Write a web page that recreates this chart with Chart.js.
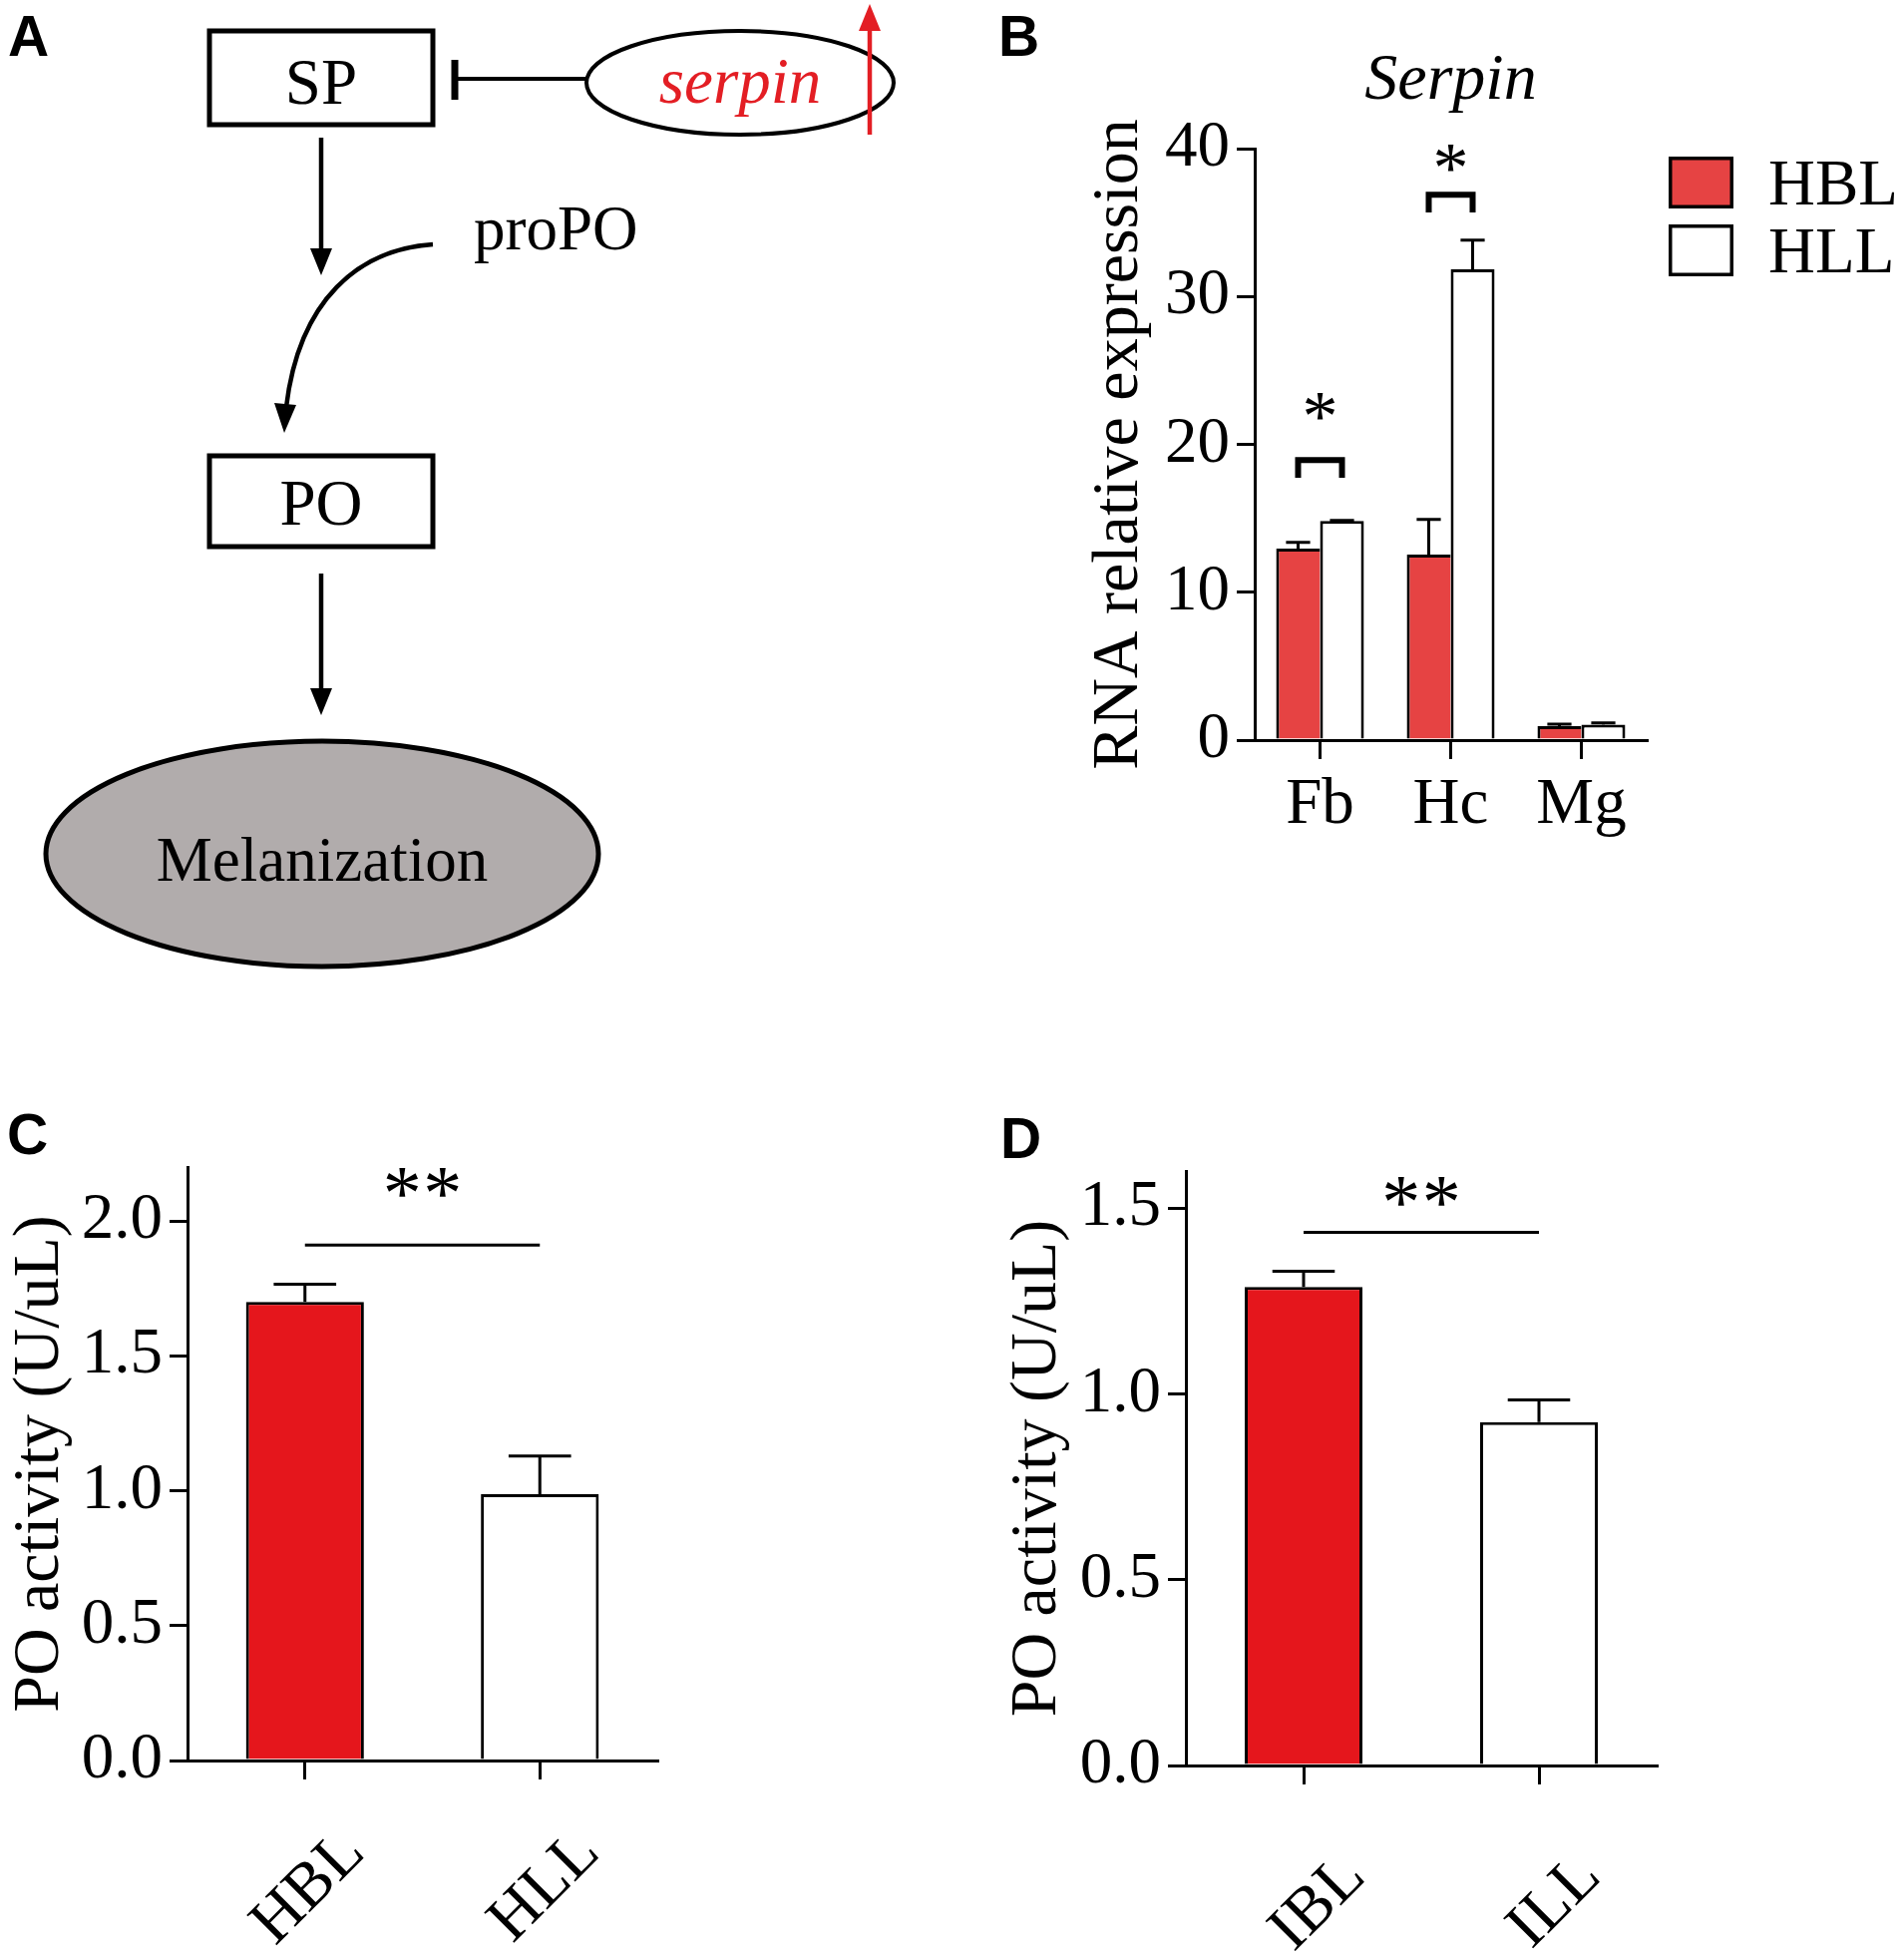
<!DOCTYPE html>
<html>
<head>
<meta charset="utf-8">
<title>Serpin expression and PO activity</title>
<script src="https://cdn.jsdelivr.net/npm/chart.js@4.4.1/dist/chart.umd.min.js"></script>
<style>
  html, body { margin: 0; padding: 0; background: #fff; }
  body { position: relative; width: 1909px; height: 1962px; overflow: hidden; }
  canvas, svg { position: absolute; }
</style>
</head>
<body>
<canvas id="chartB" width="909" height="870" style="left:1000px;top:0px"></canvas>
<canvas id="chartC" width="760" height="862" style="left:0px;top:1100px"></canvas>
<canvas id="chartD" width="800" height="862" style="left:950px;top:1100px"></canvas>

<svg width="1909" height="1962" style="left:0;top:0" font-family="'Liberation Serif', 'Times New Roman', serif">
  <!-- panel letters -->
  <g font-family="'Liberation Sans', Arial, sans-serif" font-weight="bold" font-size="57">
    <text x="8" y="56">A</text>
    <text x="1001" y="56">B</text>
    <text x="7" y="1157">C</text>
    <text x="1003" y="1161">D</text>
  </g>

  <!-- panel A: pathway sketch -->
  <rect x="210" y="31" width="224" height="94" fill="none" stroke="#000" stroke-width="5"/>
  <text x="322" y="104" font-size="65" text-anchor="middle">SP</text>

  <line x1="453" y1="79" x2="588" y2="79" stroke="#000" stroke-width="4"/>
  <line x1="456" y1="60" x2="456" y2="100" stroke="#000" stroke-width="7"/>
  <ellipse cx="742" cy="83" rx="154" ry="52" fill="none" stroke="#000" stroke-width="4"/>
  <text x="742" y="103" font-size="65" font-style="italic" fill="#e31e24" text-anchor="middle">serpin</text>
  <line x1="872" y1="135" x2="872" y2="28" stroke="#e31e24" stroke-width="4.5"/>
  <polygon points="872,4 861,31 883,31" fill="#e31e24"/>

  <line x1="322" y1="138" x2="322" y2="252" stroke="#000" stroke-width="4.5"/>
  <polygon points="322,276 311,249 333,249" fill="#000"/>

  <text x="475" y="250" font-size="63">proPO</text>
  <path d="M434,245 C360,250 300,300 287,408" fill="none" stroke="#000" stroke-width="4.5"/>
  <polygon points="285,434 297,406 275,404" fill="#000"/>

  <rect x="210" y="457" width="224" height="91" fill="none" stroke="#000" stroke-width="5"/>
  <text x="322" y="526" font-size="65" text-anchor="middle">PO</text>

  <line x1="322" y1="575" x2="322" y2="693" stroke="#000" stroke-width="4.5"/>
  <polygon points="322,717 311,690 333,690" fill="#000"/>

  <ellipse cx="323" cy="856" rx="277" ry="113" fill="#b1acac" stroke="#000" stroke-width="5"/>
  <text x="323" y="883" font-size="63" text-anchor="middle">Melanization</text>
</svg>

<script>
const SERIF = "'Liberation Serif', 'Times New Roman', serif";

// B: Serpin relative expression per tissue
const tissues = ['Fb', 'Hc', 'Mg'];
const hblExpr = [12.95, 12.55, 0.94];
const hblExprSem = [0.42, 2.38, 0.14];
const hllExpr = [14.82, 31.85, 1.05];
const hllExprSem = [0.05, 1.98, 0.11];
const exprTicks = [0, 10, 20, 30, 40];
const exprSigIndex = [0, 1];
const exprSigBracket = [18.95, 36.9];
const exprSigStar = [22.3, 39.1];
const exprSigText = ['*', '*'];

// C: PO activity, HBL vs HLL
const groupsC = ['HBL', 'HLL'];
const poActC = [1.70, 0.987];
const poSemC = [0.066, 0.142];
const poTicksC = [0, 0.5, 1.0, 1.5, 2.0];
const sigC = { line: 1.911, star: 2.126, text: '**' };

// D: PO activity, IBL vs ILL
const groupsD = ['IBL', 'ILL'];
const poActD = [1.288, 0.924];
const poSemD = [0.042, 0.06];
const poTicksD = [0, 0.5, 1.0, 1.5];
const sigD = { line: 1.435, star: 1.534, text: '**' };

Chart.defaults.font.family = SERIF;
Chart.defaults.color = '#000';

/* asterisks, one glyph at a time so the gap can be set */
function drawStars(ctx, text, cx, cy, size) {
    ctx.font = size + 'px ' + SERIF;
    ctx.textAlign = 'center';
    ctx.textBaseline = 'alphabetic';
    var gap = size * 0.52;
    for (var k = 0; k < text.length; k++) {
        ctx.fillText(text[k], cx + (k - (text.length - 1) / 2) * gap, cy + size * 0.41);
    }
}

const errorBars = {
    id: 'errorBars',
    afterDatasetsDraw(chart, args, opts) {
        var ctx = chart.ctx, y = chart.scales.y;
        ctx.save();
        ctx.strokeStyle = '#000';
        ctx.lineWidth = opts.width;
        chart.data.datasets.forEach((ds, di) => {
            chart.getDatasetMeta(di).data.forEach((bar, i) => {
                var yBar = y.getPixelForValue(ds.data[i]);
                var yTop = y.getPixelForValue(ds.data[i] + ds.sem[i]);
                var half = bar.width * opts.cap / 2;
                ctx.beginPath();
                ctx.moveTo(bar.x, yBar);
                ctx.lineTo(bar.x, yTop);
                ctx.moveTo(bar.x - half, yTop);
                ctx.lineTo(bar.x + half, yTop);
                ctx.stroke();
            });
        });
        ctx.restore();
    }
};

/* bracket + star over the two bars of one tissue (panel B) */
const sigBrackets = {
    id: 'sigBrackets',
    afterDatasetsDraw(chart, args, opts) {
        var ctx = chart.ctx, y = chart.scales.y;
        var m0 = chart.getDatasetMeta(0).data, m1 = chart.getDatasetMeta(1).data;
        ctx.save();
        ctx.strokeStyle = '#000';
        ctx.fillStyle = '#000';
        ctx.lineWidth = opts.width;
        exprSigIndex.forEach((ci, k) => {
            var x0 = m0[ci].x, x1 = m1[ci].x;
            var yt = y.getPixelForValue(exprSigBracket[k]);
            var yb = y.getPixelForValue(exprSigBracket[k] - opts.leg);
            ctx.beginPath();
            ctx.moveTo(x0, yb);
            ctx.lineTo(x0, yt);
            ctx.lineTo(x1, yt);
            ctx.lineTo(x1, yb);
            ctx.stroke();
            drawStars(ctx, exprSigText[k], (x0 + x1) / 2, y.getPixelForValue(exprSigStar[k]), opts.starSize);
        });
        ctx.restore();
    }
};

/* plain line between two bars with stars above (panels C, D) */
const sigLine = {
    id: 'sigLine',
    afterDatasetsDraw(chart, args, opts) {
        var ctx = chart.ctx, y = chart.scales.y;
        var bars = chart.getDatasetMeta(0).data;
        var x0 = bars[0].x, x1 = bars[1].x;
        var yl = y.getPixelForValue(opts.sig.line);
        ctx.save();
        ctx.strokeStyle = '#000';
        ctx.fillStyle = '#000';
        ctx.lineWidth = opts.width;
        ctx.beginPath();
        ctx.moveTo(x0, yl);
        ctx.lineTo(x1, yl);
        ctx.stroke();
        drawStars(ctx, opts.sig.text, (x0 + x1) / 2, y.getPixelForValue(opts.sig.star), opts.starSize);
        ctx.restore();
    }
};

/* square-swatch legend (panel B) */
const boxLegend = {
    id: 'boxLegend',
    afterDraw(chart, args, opts) {
        var ctx = chart.ctx;
        ctx.save();
        chart.data.datasets.forEach((ds, i) => {
            var top = opts.y + i * opts.step;
            ctx.fillStyle = ds.backgroundColor;
            ctx.fillRect(opts.x, top, opts.w, opts.h);
            ctx.lineWidth = 3.5;
            ctx.strokeStyle = '#000';
            ctx.strokeRect(opts.x + 1.75, top + 1.75, opts.w - 3.5, opts.h - 3.5);
            ctx.fillStyle = '#000';
            ctx.font = opts.size + 'px ' + SERIF;
            ctx.textAlign = 'left';
            ctx.textBaseline = 'alphabetic';
            ctx.fillText(ds.label, opts.x + opts.textGap, top + opts.h - 4);
        });
        ctx.restore();
    }
};

function yAxis(max, ticks, title, width, fmt) {
    return {
        min: 0,
        max: max,
        afterBuildTicks: s => { s.ticks = ticks.map(v => ({ value: v })); },
        afterFit: s => { s.width = width; },
        border: { display: true, color: '#000', width: 3 },
        grid: { drawOnChartArea: false, drawTicks: true, tickLength: 18, lineWidth: 3, color: '#000' },
        ticks: { padding: 7, font: { size: 65 }, callback: fmt },
        title: { display: true, text: title, font: { size: 66, lineHeight: 1 }, padding: 0 }
    };
}

function xAxis(height, tickOpts) {
    return {
        afterFit: s => { s.height = height; },
        border: { display: true, color: '#000', width: 3 },
        grid: { offset: false, drawOnChartArea: false, tickLength: 19, lineWidth: 3, color: '#000' },
        ticks: Object.assign({ font: { size: 65, lineHeight: 1.2 }, autoSkip: false }, tickOpts)
    };
}

const baseOptions = {
    responsive: false,
    animation: false,
    devicePixelRatio: 1,
    events: []
};

// Panel B
new Chart(document.getElementById('chartB').getContext('2d'), {
    type: 'bar',
    data: {
        labels: tissues,
        datasets: [{
            label: 'HBL',
            data: hblExpr,
            sem: hblExprSem,
            backgroundColor: '#e64343',
            borderColor: '#000',
            borderWidth: { top: 3, left: 3, right: 0, bottom: 0 },
            barPercentage: 1.0,
            categoryPercentage: 0.672
        }, {
            label: 'HLL',
            data: hllExpr,
            sem: hllExprSem,
            backgroundColor: '#ffffff',
            borderColor: '#000',
            borderWidth: 3,
            barPercentage: 1.0,
            categoryPercentage: 0.672
        }]
    },
    options: Object.assign({}, baseOptions, {
        layout: { padding: { left: 90, right: 258, top: 0, bottom: 8 } },
        plugins: {
            legend: { display: false },
            tooltip: { enabled: false },
            title: {
                display: true,
                text: 'Serpin',
                fullSize: false,
                color: '#000',
                font: { size: 66, style: 'italic', weight: 'normal', lineHeight: 1.2 },
                padding: { top: 42, bottom: 28 }
            },
            errorBars: { width: 3, cap: 0.55 },
            sigBrackets: { width: 6, leg: 1.2, starSize: 72 },
            boxLegend: { x: 673, y: 157, w: 65, h: 52, step: 68, textGap: 100, size: 65 }
        },
        scales: {
            x: xAxis(120, { padding: 8 }),
            y: yAxis(40, exprTicks, 'RNA relative expression', 168, v => v)
        }
    }),
    plugins: [errorBars, sigBrackets, boxLegend]
});

// Panel C
new Chart(document.getElementById('chartC').getContext('2d'), {
    type: 'bar',
    data: {
        labels: groupsC,
        datasets: [{
            data: poActC,
            sem: poSemC,
            backgroundColor: ['#e5161c', '#ffffff'],
            borderColor: '#000',
            borderWidth: 3,
            barPercentage: 0.502,
            categoryPercentage: 1.0
        }]
    },
    options: Object.assign({}, baseOptions, {
        layout: { padding: { left: 8, right: 101, top: 70, bottom: 7 } },
        plugins: {
            legend: { display: false },
            tooltip: { enabled: false },
            errorBars: { width: 3, cap: 0.53 },
            sigLine: { width: 3, sig: sigC, starSize: 78 }
        },
        scales: {
            x: xAxis(190, { minRotation: 45, maxRotation: 45, labelOffset: 50, padding: 36 }),
            y: yAxis(2.2, poTicksC, 'PO activity (U/uL)', 180, v => v.toFixed(1))
        }
    }),
    plugins: [errorBars, sigLine]
});

// Panel D
new Chart(document.getElementById('chartD').getContext('2d'), {
    type: 'bar',
    data: {
        labels: groupsD,
        datasets: [{
            data: poActD,
            sem: poSemD,
            backgroundColor: ['#e5161c', '#ffffff'],
            borderColor: '#000',
            borderWidth: 3,
            barPercentage: 0.5,
            categoryPercentage: 1.0
        }]
    },
    options: Object.assign({}, baseOptions, {
        layout: { padding: { left: 58, right: 89, top: 74, bottom: 6 } },
        plugins: {
            legend: { display: false },
            tooltip: { enabled: false },
            errorBars: { width: 3, cap: 0.53 },
            sigLine: { width: 3, sig: sigD, starSize: 78 }
        },
        scales: {
            x: xAxis(186, { minRotation: 45, maxRotation: 45, labelOffset: 52, padding: 55 }),
            y: yAxis(1.6, poTicksD, 'PO activity (U/uL)', 181, v => v.toFixed(1))
        }
    }),
    plugins: [errorBars, sigLine]
});
</script>
</body>
</html>
